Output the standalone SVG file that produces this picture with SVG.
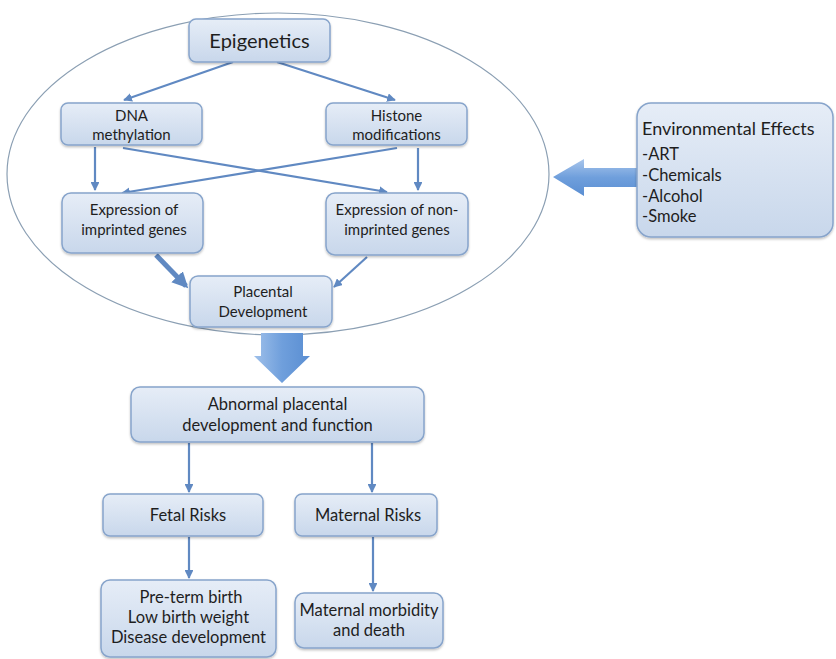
<svg xmlns="http://www.w3.org/2000/svg" width="836" height="659" viewBox="0 0 836 659">
<defs>
<linearGradient id="boxg" x1="0" y1="0" x2="0" y2="1">
<stop offset="0" stop-color="#e6edf7"/>
<stop offset="1" stop-color="#c8d7eb"/>
</linearGradient>
<linearGradient id="arrg" x1="0" y1="0" x2="0" y2="1">
<stop offset="0" stop-color="#a9c6ec"/>
<stop offset="0.5" stop-color="#6f9fdc"/>
<stop offset="1" stop-color="#5a8ed2"/>
</linearGradient>
<linearGradient id="arrh" x1="0" y1="0" x2="1" y2="0">
<stop offset="0" stop-color="#9fc0ea"/>
<stop offset="0.5" stop-color="#6f9fdc"/>
<stop offset="1" stop-color="#5a8ed2"/>
</linearGradient>
<filter id="sh" x="-10%" y="-10%" width="120%" height="130%">
<feDropShadow dx="0" dy="1.5" stdDeviation="1.2" flood-color="#000" flood-opacity="0.25"/>
</filter>
<marker id="ah" viewBox="0 0 10 10" refX="9" refY="5" markerWidth="4" markerHeight="4" orient="auto" markerUnits="strokeWidth">
<path d="M0,0 L10,5 L0,10 z" fill="#6089c2"/>
</marker>
<marker id="ahb" viewBox="0 0 10 10" refX="8" refY="5" markerWidth="3.2" markerHeight="3.2" orient="auto" markerUnits="strokeWidth">
<path d="M0,0 L10,5 L0,10 z" fill="#6089c2"/>
</marker>
</defs>
<style>
.box{fill:url(#boxg);stroke:#87a4cb;stroke-width:1.5;filter:url(#sh)}
.t{font-family:Lato,"Open Sans","Liberation Sans",sans-serif;fill:#1e1e1e;text-anchor:middle}
.tl{font-family:Lato,"Open Sans","Liberation Sans",sans-serif;fill:#1e1e1e}
.c{fill:none;stroke:#6089c2;stroke-width:2.2;marker-end:url(#ah)}
</style>
<rect width="836" height="659" fill="#ffffff"/>
<ellipse id="ellipse" cx="278" cy="174" rx="271" ry="161" fill="none" stroke="#8b9fb3" stroke-width="1.2"/>

<g id="connectors">
<line class="c" x1="233" y1="62" x2="124" y2="100"/>
<line class="c" x1="277" y1="62" x2="395" y2="100"/>
<line class="c" x1="95" y1="147" x2="95" y2="190"/>
<line class="c" x1="418" y1="148" x2="418" y2="190"/>
<line class="c" x1="123" y1="148" x2="387" y2="192"/>
<line class="c" x1="397" y1="148" x2="122" y2="193"/>
<line fill="none" stroke="#6089c2" stroke-width="5" marker-end="url(#ahb)" x1="156" y1="255" x2="186" y2="286"/>
<line class="c" x1="367" y1="257" x2="334" y2="287"/>
<line class="c" x1="189" y1="443" x2="189" y2="492"/>
<line class="c" x1="372" y1="443" x2="372" y2="492"/>
<line class="c" x1="189" y1="537" x2="189" y2="578"/>
<line class="c" x1="373" y1="537" x2="373" y2="591"/>
<path id="block-down" d="M261,333 L303,333 L303,356 L310,356 L282,383 L254,356 L261,356 Z" fill="url(#arrh)"/>
<path id="block-left" d="M637,168 L584,168 L584,159 L553,177 L584,196 L584,187 L637,187 Z" fill="url(#arrg)"/>
</g>

<g id="n-epigenetics">
<rect class="box" x="189" y="19" width="141" height="43" rx="7"/>
<text class="t" x="259.5" y="48" font-size="20">Epigenetics</text>
</g>
<g id="n-dna">
<rect class="box" x="61" y="103" width="141" height="42" rx="7"/>
<text class="t" x="131.5" y="121" font-size="15">DNA</text>
<text class="t" x="131.5" y="140" font-size="15">methylation</text>
</g>
<g id="n-histone">
<rect class="box" x="326" y="103" width="141" height="42" rx="7"/>
<text class="t" x="396.5" y="121" font-size="15">Histone</text>
<text class="t" x="396.5" y="140" font-size="15">modifications</text>
</g>
<g id="n-imprinted">
<rect class="box" x="62" y="193" width="141" height="60" rx="9"/>
<text class="t" x="134" y="215" font-size="15">Expression of</text>
<text class="t" x="134" y="235" font-size="15">imprinted genes</text>
</g>
<g id="n-nonimprinted">
<rect class="box" x="326" y="193" width="142" height="62" rx="9"/>
<text class="t" x="397" y="215" font-size="15">Expression of non-</text>
<text class="t" x="397" y="235" font-size="15">imprinted genes</text>
</g>
<g id="n-placental">
<rect class="box" x="190" y="276" width="142" height="51" rx="8"/>
<text class="t" x="263" y="297" font-size="15">Placental</text>
<text class="t" x="263" y="317" font-size="15">Development</text>
</g>
<g id="n-env">
<rect class="box" x="637" y="103" width="196" height="134" rx="14"/>
<text class="tl" x="642" y="135" font-size="18">Environmental Effects</text>
<text class="tl" x="642" y="160" font-size="16.5">-ART</text>
<text class="tl" x="642" y="181" font-size="16.5">-Chemicals</text>
<text class="tl" x="642" y="202" font-size="16.5">-Alcohol</text>
<text class="tl" x="642" y="222" font-size="16.5">-Smoke</text>
</g>
<g id="n-abnormal">
<rect class="box" x="131" y="387" width="293" height="55" rx="9"/>
<text class="t" x="277.5" y="410" font-size="16.5">Abnormal placental</text>
<text class="t" x="277.5" y="431" font-size="16.5">development and function</text>
</g>
<g id="n-fetal">
<rect class="box" x="103" y="494" width="160" height="42" rx="7"/>
<text class="t" x="188" y="521" font-size="16.5">Fetal Risks</text>
</g>
<g id="n-maternal">
<rect class="box" x="295" y="494" width="142" height="42" rx="7"/>
<text class="t" x="368" y="521" font-size="16.5">Maternal Risks</text>
</g>
<g id="n-preterm">
<rect class="box" x="101" y="580" width="175" height="77" rx="9"/>
<text class="t" x="191" y="603" font-size="16.5">Pre-term birth</text>
<text class="t" x="188.5" y="623" font-size="16.5">Low birth weight</text>
<text class="t" x="188.5" y="643" font-size="16.5">Disease development</text>
</g>
<g id="n-morbidity">
<rect class="box" x="295" y="593" width="148" height="55" rx="9"/>
<text class="t" x="369" y="616" font-size="16.5">Maternal morbidity</text>
<text class="t" x="369" y="636" font-size="16.5">and death</text>
</g>
</svg>
